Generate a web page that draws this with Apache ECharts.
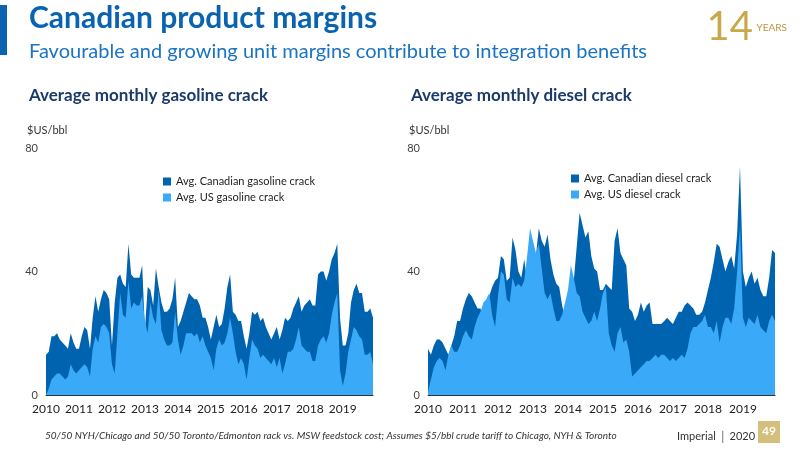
<!DOCTYPE html>
<html><head><meta charset="utf-8">
<script src="https://cdn.jsdelivr.net/npm/echarts@6/dist/echarts.min.js"></script>
<style>body{margin:0}#main{width:800px;height:450px}</style>
</head><body><div id="main"></div>
<script>
var years = ['2010','2011','2012','2013','2014','2015','2016','2017','2018','2019'];
var canGasoline = [13,14,19,19,20,18,17,16,15,20,17,15, 15,19,22,21,15,25,32,27,31,34,33,31, 16,30,38,39,36,35,49,39,38,38,38,42,
  21,35,34,29,41,35,30,27,27,28,31,38, 22,24,27,30,33,32,31,31,29,25,25,22, 18,22,26,22,23,28,35,39,27,26,24,24,
  19,15,20,27,26,27,24,25,22,20,18,20, 22,18,21,25,24,25,28,30,32,27,29,30, 31,29,29,39,40,40,37,40,44,46,49,25,
  16,16,20,30,34,36,33,33,27,27,28,25];
var usGasoline = [0,2,5,6,7,7,6,5,6,10,8,7, 8,9,10,9,6,15,19,17,22,23,22,20, 10,7,20,33,26,25,37,28,30,29,29,32,
  24,20,30,25,23,34,21,18,16,16,17,27, 18,13,16,20,20,20,19,20,17,19,16,14, 12,8,15,18,16,17,20,25,20,14,10,12,
  10,5,12,18,16,15,12,13,12,11,10,12, 9,12,7,10,14,14,15,18,22,16,15,14, 14,11,11,16,18,19,17,20,26,30,33,8,
  3,7,14,18,22,21,19,18,13,13,14,10];
var canDiesel = [15,13,16,18,18,17,15,13,16,19,24,24, 28,31,33,32,30,28,28,25,30,32,35,37, 38,45,44,37,38,51,47,40,38,44,37,36,
  37,45,54,50,48,52,44,39,36,35,29,25, 27,30,37,48,59,55,51,53,45,41,40,34, 34,36,35,34,50,54,46,44,42,28,27,24,
  26,30,27,29,30,23,23,23,23,24,25,24, 23,25,27,27,29,30,29,28,26,26,27,30, 34,38,43,49,48,44,40,43,45,41,52,74,
  40,35,38,40,36,38,34,32,32,38,47,46];
var usDiesel = [1,5,9,11,12,11,8,13,16,14,14,16, 19,21,19,18,22,25,27,30,31,33,26,22, 32,40,39,31,30,38,35,36,35,37,45,54,
  50,46,49,41,33,31,33,28,24,24,26,30, 34,42,38,33,32,27,25,23,24,27,24,28, 33,35,20,16,14,20,22,17,18,14,6,7,
  8,9,10,11,11,12,13,12,13,13,12,11, 12,11,12,13,12,15,20,22,22,23,24,26, 22,22,20,24,17,22,25,25,23,28,40,55,
  25,22,25,24,23,26,22,21,20,24,26,24];

var dark = '#0063b0', light = '#3aa9f7', navy = '#1b3a6b';
function pts(a){ return a.map(function(v,i){ return [i,v]; }); }
function xAxis(g){ return {type:'value', gridIndex:g, min:0, max:119, interval:12,
  axisLine:{lineStyle:{color:'#333'}}, axisTick:{show:false}, splitLine:{show:false},
  axisLabel:{color:'#222', fontSize:12, fontFamily:'Lato', formatter:function(v){ return years[v/12] || ''; }}}; }
function yAxis(g){ return {type:'value', gridIndex:g, min:0, max:80, interval:40, axisLine:{show:false},
  axisTick:{show:false}, splitLine:{show:false}, axisLabel:{color:'#444', fontSize:11, fontFamily:'Lato', margin:8}}; }
function area(name,data,color,g){ return {name:name, type:'line', xAxisIndex:g, yAxisIndex:g, data:pts(data),
  symbol:'none', lineStyle:{width:0}, areaStyle:{color:color, opacity:1}, itemStyle:{color:color}}; }

var myChart = echarts.init(document.getElementById('main'));
var option = {
  animation:false,
  title:[
    {text:'Canadian product margins', left:24, top:-2, textStyle:{color:'#0a63b0', fontSize:30, fontWeight:'bold', fontFamily:'Lato'}},
    {text:'Favourable and growing unit margins contribute to integration benefits', left:24, top:37, textStyle:{color:'#1a73c4', fontSize:20, fontWeight:'normal', fontFamily:'Lato'}},
    {text:'Average monthly gasoline crack', left:24, top:82, textStyle:{color:navy, fontSize:17, fontWeight:'bold', fontFamily:'Lato'}},
    {text:'Average monthly diesel crack', left:406, top:82, textStyle:{color:navy, fontSize:17, fontWeight:'bold', fontFamily:'Lato'}},
    {text:'$US/bbl', left:22, top:120, textStyle:{color:'#333', fontSize:11, fontWeight:'normal', fontFamily:'Lato'}},
    {text:'$US/bbl', left:404, top:120, textStyle:{color:'#333', fontSize:11, fontWeight:'normal', fontFamily:'Lato'}},
    {text:'50/50 NYH/Chicago and 50/50 Toronto/Edmonton rack vs. MSW feedstock cost; Assumes $5/bbl crude tariff to Chicago, NYH & Toronto', left:40, top:426,
      textStyle:{color:'#333', fontSize:10, fontStyle:'italic', fontWeight:'normal', fontFamily:'Lato'}},
    {text:'Imperial │ 2020', left:672, top:426, textStyle:{color:'#333', fontSize:11, fontWeight:'normal', fontFamily:'Lato'}},
    {text:'14', right:42, top:2, textStyle:{color:'#c9a84c', fontSize:40, fontWeight:'normal', fontFamily:'Lato'}},
    {text:'YEARS', right:8, top:18, textStyle:{color:'#b8963c', fontSize:10, fontWeight:'normal', fontFamily:'Lato'}}
  ],
  graphic:[
    {type:'rect', shape:{x:0, y:5, width:7, height:50}, style:{fill:'#0a63b0'}},
    {type:'rect', shape:{x:758, y:421, width:22, height:22}, style:{fill:'#d4c07a'}},
    {type:'text', left:762, top:425, style:{text:'49', fill:'#fff', font:'bold 12px Lato'}}
  ],
  legend:[
    {orient:'vertical', left:158, top:171, itemWidth:8, itemHeight:8, itemGap:5, icon:'rect',
      data:['Avg. Canadian gasoline crack','Avg. US gasoline crack'], textStyle:{color:'#222', fontSize:11, fontFamily:'Lato'}},
    {orient:'vertical', left:566, top:168, itemWidth:8, itemHeight:8, itemGap:5, icon:'rect',
      data:['Avg. Canadian diesel crack','Avg. US diesel crack'], textStyle:{color:'#222', fontSize:11, fontFamily:'Lato'}}
  ],
  grid:[
    {left:46, top:148, width:327, height:247},
    {left:428, top:148, width:347, height:247}
  ],
  xAxis:[xAxis(0), xAxis(1)],
  yAxis:[yAxis(0), yAxis(1)],
  series:[
    area('Avg. Canadian gasoline crack', canGasoline, dark, 0),
    area('Avg. US gasoline crack', usGasoline, light, 0),
    area('Avg. Canadian diesel crack', canDiesel, dark, 1),
    area('Avg. US diesel crack', usDiesel, light, 1)
  ]
};
myChart.setOption(option);
</script></body></html>
